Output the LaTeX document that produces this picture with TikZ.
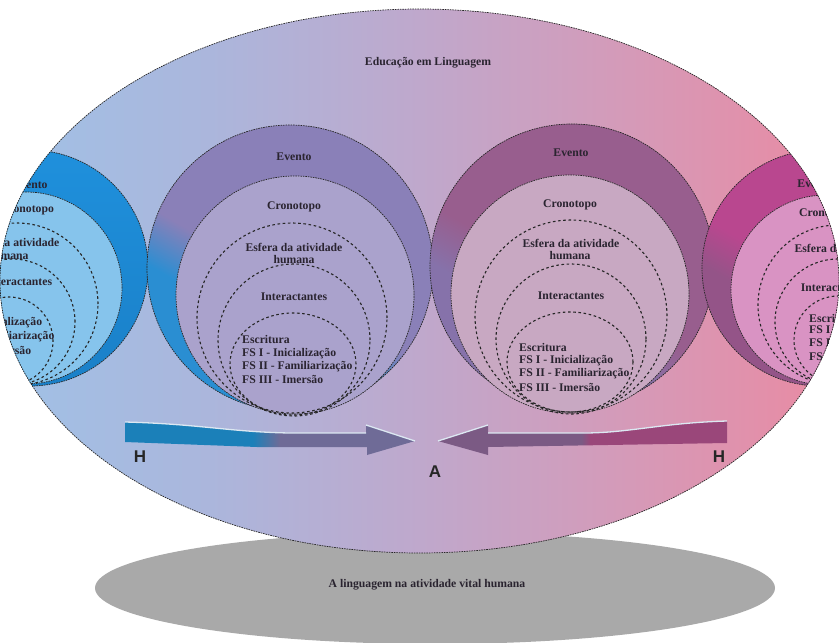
\documentclass[tikz,border=0pt]{standalone}
\usepackage{fontspec}
\setmainfont{Liberation Serif}
\newfontfamily\hafont{Liberation Sans}
\definecolor{bgL}{HTML}{A0C1E6}
\definecolor{bgB}{HTML}{ABB6DC}
\definecolor{bgM}{HTML}{BFA8CC}
\definecolor{bgD}{HTML}{D59AB8}
\definecolor{bgR}{HTML}{EA8AA2}
\definecolor{grayell}{HTML}{A9A9A9}
\definecolor{txt}{HTML}{2A2430}
\definecolor{lpRing}{HTML}{1F90DC}
\definecolor{lpRingB}{HTML}{1A80C8}
\definecolor{lpLight}{HTML}{86C4EC}
\definecolor{lmRing}{HTML}{8A80B8}
\definecolor{lmBlue}{HTML}{2A8ED2}
\definecolor{lmLight}{HTML}{AAA2CC}
\definecolor{rmRing}{HTML}{985E8E}
\definecolor{rmLow}{HTML}{8672AA}
\definecolor{rmLight}{HTML}{C8A8C2}
\definecolor{rpRing}{HTML}{B9478F}
\definecolor{rpLow}{HTML}{945488}
\definecolor{rpLight}{HTML}{D993C3}
\definecolor{arB}{HTML}{1B80B9}
\definecolor{arG}{HTML}{6F6B97}
\definecolor{arP}{HTML}{7B5A84}
\definecolor{arM}{HTML}{9A477A}
\definecolor{hlc}{HTML}{DCE8F2}
\pgfdeclarehorizontalshading{bigell}{100bp}{color(0bp)=(bgL); color(25bp)=(bgL); color(37.5bp)=(bgB); color(50bp)=(bgM); color(62.5bp)=(bgD); color(75bp)=(bgR); color(100bp)=(bgR)}
\pgfdeclarehorizontalshading{larrow}{100bp}{color(0bp)=(arB); color(25bp)=(arB); color(47bp)=(arB); color(51.7bp)=(arG); color(75bp)=(arG); color(100bp)=(arG)}
\pgfdeclarehorizontalshading{rarrow}{100bp}{color(0bp)=(arP); color(25bp)=(arP); color(49.8bp)=(arP); color(51.3bp)=(arM); color(75bp)=(arM); color(100bp)=(arM)}
\pgfdeclareverticalshading{lmring}{100bp}{color(0bp)=(lmBlue); color(38bp)=(lmBlue); color(47bp)=(lmRing); color(100bp)=(lmRing)}
\pgfdeclareverticalshading{rmring}{100bp}{color(0bp)=(rmLow); color(38bp)=(rmLow); color(47bp)=(rmRing); color(100bp)=(rmRing)}
\pgfdeclareverticalshading{rpring}{100bp}{color(0bp)=(rpLow); color(38bp)=(rpLow); color(47bp)=(rpRing); color(100bp)=(rpRing)}
\tikzset{
  fine/.style={draw=black!85, line width=0.7pt, dash pattern=on 1.6pt off 0.9pt},
  dots/.style={draw=black!85, line width=1.1pt, dash pattern=on 2.6pt off 2.6pt},
  lbl/.style={font=\bfseries\fontsize{11.7}{13}\selectfont, text=txt, inner sep=0pt},
  lblw/.style={lbl, anchor=west},
  hlab/.style={font=\hafont\bfseries\fontsize{17}{17}\selectfont, text=black!85, inner sep=0pt},
  hl/.style={draw=hlc, line width=1.3pt}
}
\begin{document}
\begin{tikzpicture}[x=1pt, y=-1pt]
\useasboundingbox (0,0) rectangle (839,643);
% ground ellipse
\fill[grayell] (435,588) ellipse [x radius=340pt, y radius=56pt];
\node[lbl] (vital) at (427,585) {A linguagem na atividade vital humana};
% big ellipse
\shade[shading=bigell] (419.5,281) ellipse [x radius=419.5pt, y radius=272pt];
\begin{scope}
\clip (419.5,281) ellipse [x radius=419.5pt, y radius=272pt];
% ---- left partial
\shade[top color=lpRing, bottom color=lpRingB] (30,268) circle [radius=118pt];
\draw[fine] (30,268) circle [radius=118pt];
\fill[lpLight] (26,288) circle [radius=96pt];
\draw[fine] (26,288) circle [radius=96pt];
\draw[dots] (17,304) circle [radius=81pt];
\draw[dots] (12,322) circle [radius=63pt];
\draw[dots] (9,341) circle [radius=44pt];
\node[lbl] (lpEv) at (30,185) {Evento};
\node[lbl] (lpCr) at (27,210) {Cronotopo};
\node[lbl] (lpEs) at (11,242) {Esfera da atividade};
\node[lbl] (lpHu) at (8,256) {humana};
\node[lbl] (lpIn) at (19,282) {Interactantes};
\node[lblw] (lpE0) at (-52,309) {Escritura};
\node[lblw] (lpE1) at (-52,323) {FS I - Inicialização};
\node[lblw] (lpE2) at (-56,337) {FS II - Familiarização};
\node[lblw] (lpE3) at (-50,350) {FS III - Imersão};
% ---- left middle
\shade[shading=lmring, shading angle=-30] (290,268) circle [radius=143pt];
\draw[fine] (290,268) circle [radius=143pt];
\fill[lmLight] (295,295) circle [radius=119pt];
\draw[fine] (295,295) circle [radius=119pt];
\draw[dots] (292,318) circle [radius=95pt];
\draw[dots] (294,340) circle [radius=76pt];
\draw[dots] (293,364) ellipse [x radius=63pt, y radius=51pt];
\node[lbl] (lmEv) at (294,157) {Evento};
\node[lbl] (lmCr) at (294,207) {Cronotopo};
\node[lbl] (lmEs) at (294,247) {Esfera da atividade};
\node[lbl] (lmHu) at (294,260) {humana};
\node[lbl] (lmIn) at (294,297) {Interactantes};
\node[lblw] (lmE0) at (242,340) {Escritura};
\node[lblw] (lmE1) at (242,354) {FS I - Inicialização};
\node[lblw] (lmE2) at (242,367) {FS II - Familiarização};
\node[lblw] (lmE3) at (242,379) {FS III - Imersão};
% ---- right middle
\shade[shading=rmring, shading angle=-30] (572,266) circle [radius=142pt];
\draw[fine] (572,266) circle [radius=142pt];
\fill[rmLight] (570,294) circle [radius=119pt];
\draw[fine] (570,294) circle [radius=119pt];
\draw[dots] (571,316) circle [radius=96pt];
\draw[dots] (571,339) circle [radius=75pt];
\draw[dots] (570,362) ellipse [x radius=63pt, y radius=50pt];
\node[lbl] (rmEv) at (571,153) {Evento};
\node[lbl] (rmCr) at (570,205) {Cronotopo};
\node[lbl] (rmEs) at (571,243) {Esfera da atividade};
\node[lbl] (rmHu) at (570,256) {humana};
\node[lbl] (rmIn) at (571,296) {Interactantes};
\node[lblw] (rmE0) at (519,348) {Escritura};
\node[lblw] (rmE1) at (519,361) {FS I - Inicialização};
\node[lblw] (rmE2) at (519,374) {FS II - Familiarização};
\node[lblw] (rmE3) at (519,387) {FS III - Imersão};
% ---- right partial
\shade[shading=rpring, shading angle=-30] (820,268) circle [radius=118pt];
\draw[fine] (820,268) circle [radius=118pt];
\fill[rpLight] (826,290) circle [radius=95pt];
\draw[fine] (826,290) circle [radius=95pt];
\draw[dots] (838,305) circle [radius=80pt];
\draw[dots] (838,322) circle [radius=63pt];
\draw[dots] (838,340) circle [radius=44pt];
\node[lbl] (rpEv) at (815,184) {Evento};
\node[lbl] (rpCr) at (826,214) {Cronotopo};
\node[lbl] (rpEs) at (843,248) {Esfera da atividade};
\node[lbl] (rpIn) at (834,288) {Interactantes};
\node[lblw] (rpE0) at (809,319) {Escritura};
\node[lblw] (rpE1) at (809,331) {FS I - Inicialização};
\node[lblw] (rpE2) at (809,344) {FS II - Familiarização};
\node[lblw] (rpE3) at (809,356) {FS III - Imersão};
% ---- arrows
\shade[shading=larrow] (125,422) .. controls (200,424) and (230,432) .. (290,433) -- (366,433) -- (366,425) -- (415,441) -- (367,455) -- (367,447) -- (257,447) -- (125,442) -- cycle;
\draw[hl] (125,422) .. controls (200,424) and (230,432) .. (290,433) -- (366,433);
\draw[hl] (366,425) -- (415,441);
\shade[shading=rarrow] (727,421) .. controls (660,423) and (630,433) .. (583,433) -- (488,433) -- (488,425) -- (438,441) -- (488,455) -- (488,447) -- (727,443) -- cycle;
\draw[hl] (727,421) .. controls (660,423) and (630,433) .. (583,433) -- (488,433);
\draw[hl] (438,441) -- (488,425);
\node[hlab] (hL) at (140,457) {H};
\node[hlab] (hR) at (719,457) {H};
\node[hlab] (aC) at (435,472) {A};
\end{scope}
\draw[fine] (419.5,281) ellipse [x radius=419.5pt, y radius=272pt];
\node[lbl] (title) at (428,63) {Educação em Linguagem};
\end{tikzpicture}
\end{document}
